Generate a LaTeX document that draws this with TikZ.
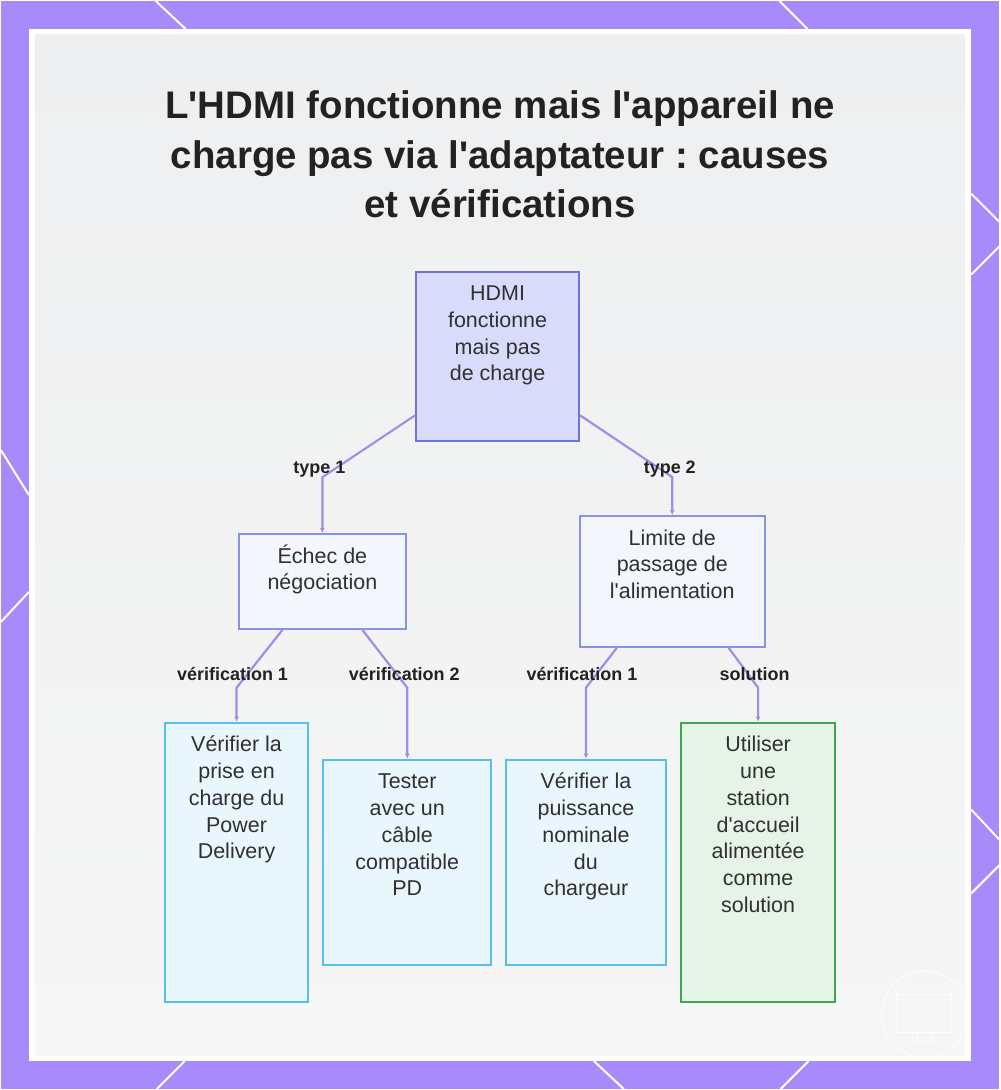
\documentclass[tikz,border=0pt]{standalone}
\usepackage{fontspec}
\newfontfamily\basefont{Liberation Sans}
\usetikzlibrary{arrows.meta,calc}
\frenchspacing
\definecolor{framecol}{HTML}{A78BFA}
\definecolor{bgtop}{HTML}{EEEFF0}
\definecolor{bgbot}{HTML}{F6F6F6}
\definecolor{rootfill}{HTML}{D9DBFA}
\definecolor{rootdraw}{HTML}{6C75D6}
\definecolor{midfill}{HTML}{F4F6FE}
\definecolor{middraw}{HTML}{8792E4}
\definecolor{leaffill}{HTML}{EAF6FD}
\definecolor{leafdraw}{HTML}{55C0EA}
\definecolor{goodfill}{HTML}{E6F4E7}
\definecolor{gooddraw}{HTML}{3FA652}
\definecolor{conncol}{HTML}{A48BEA}
\definecolor{txtcol}{HTML}{303030}
\definecolor{titlecol}{HTML}{222222}
\newcommand\fl{\rule{0pt}{22pt}}
\newcommand\tl{\rule{0pt}{39pt}}
\begin{document}
\begin{tikzpicture}[x=1pt,y=-1pt,
  boxbase/.style={line width=2pt, inner sep=0pt, anchor=north west},
  rootbox/.style={boxbase, draw=rootdraw, fill=rootfill},
  midbox/.style={boxbase, draw=middraw, fill=midfill},
  leafbox/.style={boxbase, draw=leafdraw, fill=leaffill},
  goodbox/.style={boxbase, draw=gooddraw, fill=goodfill},
  ntext/.style={anchor=north, align=center, inner sep=0pt, text=txtcol,
    font=\basefont\fontsize{21.5}{26.8}\selectfont},
  lbl/.style={anchor=base, inner sep=0pt, text=titlecol,
    font=\basefont\bfseries\fontsize{18}{20}\selectfont},
  conn/.style={draw=conncol, line width=2.2pt, -{Latex[length=5pt,width=5pt]}},
  deco/.style={draw=white, line width=2pt},
  wm/.style={draw=white, line width=1.1pt, opacity=0.7}
]
% frame
\fill[framecol] (0,0) rectangle (1000,1090);
\fill[white] (28,28) rectangle (972,1062);
\shade[top color=bgtop, bottom color=bgbot] (34,34) rectangle (966,1056);
\draw[deco] (155,0) -- (185,28);
\draw[deco] (780,0) -- (808,28);
\draw[deco] (972,193) -- (1000,221);
\draw[deco] (1000,246) -- (972,274);
\draw[deco] (972,810) -- (1000,840);
\draw[deco] (1000,866) -- (972,894);
\draw[deco] (0,450) -- (28,495);
\draw[deco] (28,592) -- (0,622);
\draw[deco] (184,1062) -- (156,1090);
\draw[deco] (594,1062) -- (624,1090);
\draw[deco] (809,1062) -- (781,1090);
% faint watermark icon
\draw[wm] (925,1015) circle (43);
\draw[wm] (897,995) rectangle (952,1033);
\draw[wm] (918,1033) -- (918,1042) (932,1033) -- (932,1042) (912,1042) -- (938,1042);
% title
\node[anchor=north, align=center, inner sep=0pt, text=titlecol,
  font=\basefont\bfseries\fontsize{38.5}{49.5}\selectfont] (title) at (500,79)
  {\tl L'HDMI fonctionne mais l'appareil ne\\charge pas via l'adaptateur : causes\\et vérifications};
% boxes
\node[rootbox, minimum width=163pt, minimum height=170pt] (root) at (415,270) {};
\node[midbox, minimum width=168pt, minimum height=95pt] (ech) at (237,533) {};
\node[midbox, minimum width=185pt, minimum height=131pt] (lim) at (579,515) {};
\node[leafbox, minimum width=144pt, minimum height=280pt] (v1) at (163,722) {};
\node[leafbox, minimum width=168pt, minimum height=206pt] (tst) at (322,759) {};
\node[leafbox, minimum width=160pt, minimum height=206pt] (pui) at (505,759) {};
\node[goodbox, minimum width=155pt, minimum height=280pt] (uti) at (680,722) {};
% box texts
\node[ntext] (troot) at ([yshift=-8pt]root.north) {\fl HDMI\\fonctionne\\mais pas\\de charge};
\node[ntext] (tech) at ([yshift=-8pt]ech.north) {\fl Échec de\\négociation};
\node[ntext] (tlim) at ([yshift=-8pt]lim.north) {\fl Limite de\\passage de\\l'alimentation};
\node[ntext] (tv1) at ([yshift=-8pt]v1.north) {\fl Vérifier la\\prise en\\charge du\\Power\\Delivery};
\node[ntext] (ttst) at ([yshift=-8pt]tst.north) {\fl Tester\\avec un\\câble\\compatible\\PD};
\node[ntext] (tpui) at ([yshift=-8pt]pui.north) {\fl Vérifier la\\puissance\\nominale\\du\\chargeur};
\node[ntext] (tuti) at ([yshift=-8pt]uti.north) {\fl Utiliser\\une\\station\\d'accueil\\alimentée\\comme\\solution};
% connectors
\draw[conn] ([yshift=27pt]root.south west) -- ([yshift=56pt]ech.north) -- (ech.north);
\draw[conn] ([yshift=27pt]root.south east) -- ([yshift=38pt]lim.north) -- (lim.north);
\draw[conn] ([xshift=45pt]ech.south west) -- ([yshift=34pt]v1.north) -- (v1.north);
\draw[conn] ([xshift=-45pt]ech.south east) -- ([yshift=71pt]tst.north) -- (tst.north);
\draw[conn] ([xshift=38pt]lim.south west) -- ([yshift=71pt]pui.north) -- (pui.north);
\draw[conn] ([xshift=-37pt]lim.south east) -- ([yshift=34pt]uti.north) -- (uti.north);
% labels
\node[lbl] (l1) at (319,473) {type 1};
\node[lbl] (l2) at (670,473) {type 2};
\node[lbl] (l3) at (232,681) {vérification 1};
\node[lbl] (l4) at (404,681) {vérification 2};
\node[lbl] (l5) at (582,681) {vérification 1};
\node[lbl] (l6) at (755,681) {solution};
\end{tikzpicture}
\end{document}
